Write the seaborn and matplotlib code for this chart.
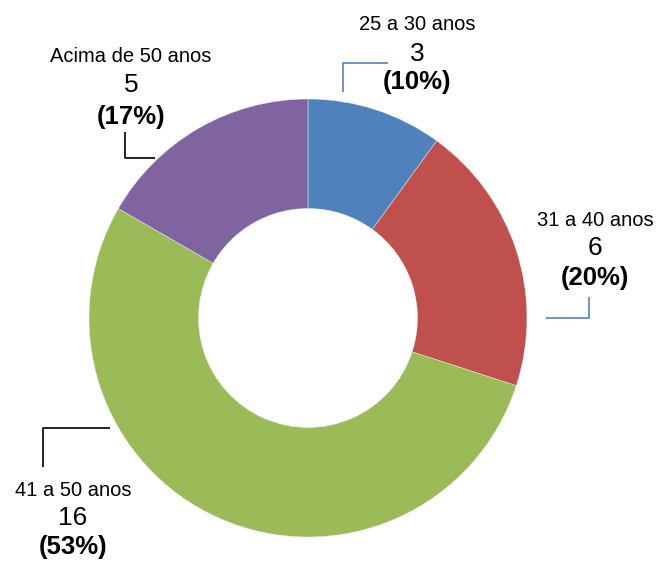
import matplotlib
matplotlib.use("Agg")
import matplotlib.pyplot as plt
import seaborn as sns

# data
categories = ["25 a 30 anos", "31 a 40 anos", "41 a 50 anos", "Acima de 50 anos"]
counts = [3, 6, 16, 5]
colors = ["#4F81BD", "#C0504D", "#9BBB59", "#8064A2"]

sns.set_style("white")
plt.rcParams["font.family"] = ["Liberation Sans", "DejaVu Sans"]

W, H = 659, 565
fig = plt.figure(figsize=(W / 100, H / 100), dpi=100)
ax = fig.add_axes([0, 0, 1, 1])

# pie in pixel space (y flipped so 0 is at bottom)
cx, cy, r = 308, H - 318, 219
ax.pie(
    counts,
    colors=sns.color_palette(colors),
    startangle=90,
    counterclock=False,
    radius=r,
    center=(cx, cy),
    wedgeprops=dict(width=r * 0.5, edgecolor="#f2f2f2", linewidth=0.3),
)
ax.set_xlim(0, W)
ax.set_ylim(0, H)
ax.set_aspect("equal")
ax.axis("off")

total = sum(counts)

# label layout: (x, y of label line, y of count, y of pct) in pixels from top
label_pos = [
    (417, 25, 54, 82),
    (595, 220, 248, 278),
    (73, 491, 518, 547),
    (131, 56, 85, 117),
]
# leader lines (pixels from top) and their colours
leaders = [
    ([388, 343, 343], [63, 63, 92], "#4F81BD"),
    ([589, 589, 546], [297, 318, 318], "#4F81BD"),
    ([110, 43, 43], [428, 428, 467], "black"),
    ([125, 125, 155], [132, 158, 158], "black"),
]

for cat, n, (x, y1, y2, y3), (lx, ly, lc) in zip(categories, counts, label_pos, leaders):
    pct = round(100 * n / total)
    ax.text(x, H - y1, cat, ha="center", va="center", fontsize=14.5, color="black")
    ax.text(x, H - y2, str(n), ha="center", va="center", fontsize=19, color="black")
    ax.text(x, H - y3, f"({pct}%)", ha="center", va="center", fontsize=18.5,
            fontweight="bold", color="black")
    ax.plot(lx, [H - v for v in ly], color=lc, linewidth=1.2, solid_capstyle="butt")

fig.savefig("out.png", dpi=100)
